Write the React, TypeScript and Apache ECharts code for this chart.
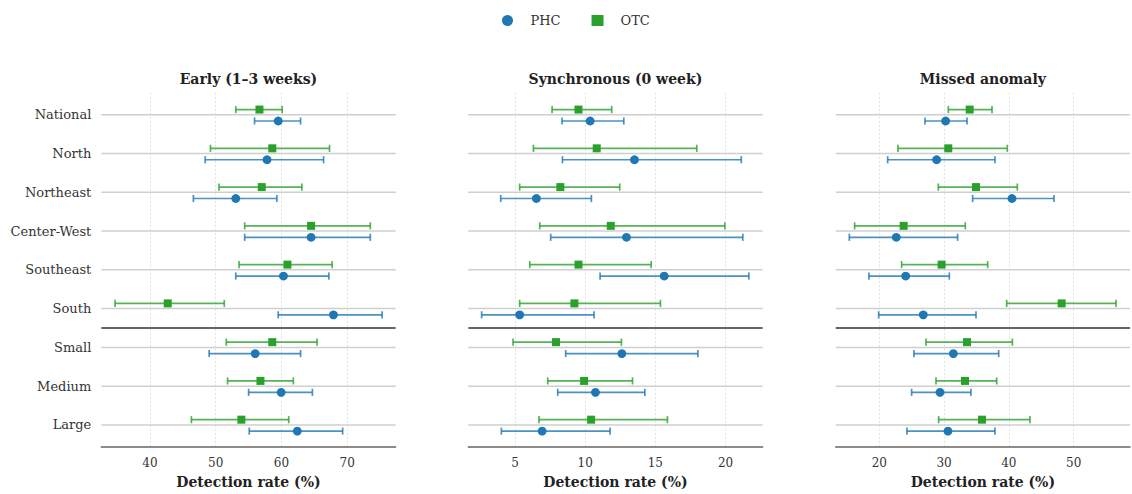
import React, { useEffect, useRef } from "react";
import * as echarts from "echarts";

const categories = ["National", "North", "Northeast", "Center-West", "Southeast", "South", "Small", "Medium", "Large"];
const panelTitles = ["Early (1–3 weeks)", "Synchronous (0 week)", "Missed anomaly"];

// [estimate, lower, upper]
const earlyPHC = [[59.5, 55.9, 62.9], [57.8, 48.4, 66.4], [53.05, 46.6, 59.3], [64.5, 54.4, 73.5], [60.3, 53.05, 67.2], [67.9, 59.5, 75.3], [56.0, 49.0, 62.9], [59.95, 55.0, 64.7], [62.4, 55.1, 69.3]];
const earlyOTC = [[56.65, 53.05, 60.1], [58.6, 49.2, 67.3], [57.0, 50.5, 63.1], [64.5, 54.4, 73.5], [60.9, 53.55, 67.7], [42.7, 34.7, 51.3], [58.6, 51.6, 65.4], [56.8, 51.8, 61.8], [53.9, 46.3, 61.1]];
const syncPHC = [[10.35, 8.35, 12.75], [13.51, 8.38, 21.12], [6.52, 3.98, 10.44], [12.94, 7.54, 21.23], [15.63, 11.06, 21.66], [5.33, 2.62, 10.63], [12.61, 8.61, 18.03], [10.73, 8.04, 14.25], [6.93, 4.03, 11.77]];
const syncOTC = [[9.52, 7.64, 11.89], [10.82, 6.31, 17.95], [8.23, 5.33, 12.46], [11.82, 6.76, 19.95], [9.52, 6.05, 14.7], [9.23, 5.33, 15.36], [7.92, 4.86, 12.58], [9.92, 7.33, 13.37], [10.42, 6.71, 15.86]];
const missPHC = [[30.24, 27.05, 33.54], [28.85, 21.29, 37.86], [40.48, 34.41, 46.97], [22.62, 15.37, 32.09], [24.07, 18.4, 30.81], [26.79, 19.9, 34.93], [31.43, 25.35, 38.43], [29.37, 24.99, 34.15], [30.6, 24.27, 37.86]];
const missOTC = [[33.95, 30.65, 37.4], [30.65, 22.88, 39.76], [34.93, 29.11, 41.31], [23.76, 16.19, 33.28], [29.62, 23.45, 36.73], [48.15, 39.66, 56.54], [33.54, 27.2, 40.54], [33.23, 28.75, 38.12], [35.85, 29.16, 43.26]];

const earlyTicks = [40, 50, 60, 70];
const syncTicks = [5, 10, 15, 20];
const missTicks = [20, 30, 40, 50];

const xRanges = [[32.6, 77.35], [1.67, 22.64], [13.27, 58.7]];
const separatorAfter = 5.5;

const PHC_COLOR = "#1f77b4";
const OTC_COLOR = "#2ca02c";
const FONT = "'DejaVu Serif', serif";

export default function App() {
  const ref = useRef<HTMLDivElement>(null);

  useEffect(() => {
    if (!ref.current) return;
    const chart = echarts.init(ref.current, null, { renderer: "svg" });

    const panels = [
      { phc: earlyPHC, otc: earlyOTC, ticks: earlyTicks },
      { phc: syncPHC, otc: syncOTC, ticks: syncTicks },
      { phc: missPHC, otc: missOTC, ticks: missTicks },
    ];
    const gridLefts = [101.3, 468.3, 835.7];
    const gridWidth = 294.3;

    const grids: any[] = [];
    const xAxes: any[] = [];
    const yAxes: any[] = [];
    const series: any[] = [];
    const graphics: any[] = [];

    const errRender = (color: string, offset: number, shape: string) => (params: any, api: any) => {
      const est = api.value(0);
      const lo = api.value(1);
      const hi = api.value(2);
      const y = api.value(3) + offset;
      const p = api.coord([est, y]);
      const pl = api.coord([lo, y]);
      const ph = api.coord([hi, y]);
      const cap = 3.6;
      const ls = { stroke: color, lineWidth: 1.7, opacity: 0.8 };
      const marker =
        shape === "circle"
          ? { type: "circle", shape: { cx: p[0], cy: p[1], r: 4.4 }, style: { fill: color } }
          : { type: "rect", shape: { x: p[0] - 4, y: p[1] - 4, width: 8, height: 8 }, style: { fill: color } };
      return {
        type: "group",
        children: [
          { type: "line", shape: { x1: pl[0], y1: pl[1], x2: ph[0], y2: ph[1] }, style: ls },
          { type: "line", shape: { x1: pl[0], y1: pl[1] - cap, x2: pl[0], y2: pl[1] + cap }, style: ls },
          { type: "line", shape: { x1: ph[0], y1: ph[1] - cap, x2: ph[0], y2: ph[1] + cap }, style: ls },
          marker,
        ],
      };
    };

    panels.forEach((pn, k) => {
      grids.push({ left: gridLefts[k], width: gridWidth, top: 92.7, height: 360.6, containLabel: false });
      xAxes.push({
        type: "value",
        gridIndex: k,
        min: xRanges[k][0],
        max: xRanges[k][1],
        position: "bottom",
        name: "Detection rate (%)",
        nameLocation: "middle",
        nameGap: 28,
        nameTextStyle: { fontFamily: FONT, fontSize: 14, fontWeight: "bold", color: "#222" },
        axisLine: { show: true, onZero: false, lineStyle: { color: "#666", width: 1.5 } },
        axisTick: { show: false },
        axisLabel: {
          customValues: pn.ticks,
          fontFamily: FONT,
          fontSize: 12,
          color: "#333",
          margin: 10,
        },
        splitLine: {
          show: true,
          showMinLine: false,
          showMaxLine: false,
          lineStyle: { color: "#e2e2e2", type: [2, 2], width: 1 },
        },
      });
      yAxes.push({
        type: "value",
        gridIndex: k,
        inverse: true,
        min: -0.57,
        max: 8.57,
        axisLine: { show: false, onZero: false },
        axisTick: { show: false },
        splitLine: { show: false },
        axisLabel: {
          show: k === 0,
          customValues: categories.map((_, i) => i),
          formatter: (v: number) => categories[Math.round(v)] ?? "",
          fontFamily: FONT,
          fontSize: 13,
          color: "#333",
          margin: 10,
        },
      });

      // horizontal reference lines (one per category) and the group separator
      const xMin = xRanges[k][0];
      const xMax = xRanges[k][1];
      const lineData = categories.map((_, i) => [xMin, i, 0]).concat([[xMin, separatorAfter, 1]]);
      series.push({
        type: "custom",
        name: "grid" + k,
        xAxisIndex: k,
        yAxisIndex: k,
        silent: true,
        z: 1,
        data: lineData,
        encode: { x: 0, y: 1 },
        renderItem: (params: any, api: any) => {
          const y = api.value(1);
          const sep = api.value(2) === 1;
          const a = api.coord([xMin, y]);
          const b = api.coord([xMax, y]);
          return {
            type: "line",
            shape: { x1: a[0], y1: a[1], x2: b[0], y2: b[1] },
            style: { stroke: sep ? "#666" : "#cfcfcf", lineWidth: sep ? 2 : 1.5 },
          };
        },
      });

      series.push({
        type: "custom",
        name: "OTC",
        xAxisIndex: k,
        yAxisIndex: k,
        z: 3,
        itemStyle: { color: OTC_COLOR },
        data: pn.otc.map((d, i) => [d[0], d[1], d[2], i]),
        encode: { x: [0, 1, 2], y: 3 },
        renderItem: errRender(OTC_COLOR, -0.135, "rect"),
      });
      series.push({
        type: "custom",
        name: "PHC",
        xAxisIndex: k,
        yAxisIndex: k,
        z: 4,
        itemStyle: { color: PHC_COLOR },
        data: pn.phc.map((d, i) => [d[0], d[1], d[2], i]),
        encode: { x: [0, 1, 2], y: 3 },
        renderItem: errRender(PHC_COLOR, 0.16, "circle"),
      });

      graphics.push({
        type: "text",
        x: gridLefts[k] + gridWidth / 2,
        y: 79,
        style: {
          text: panelTitles[k],
          textAlign: "center",
          textVerticalAlign: "middle",
          font: "bold 14px 'DejaVu Serif', serif",
          fill: "#222",
        },
      });
    });

    chart.setOption({
      animation: false,
      backgroundColor: "#ffffff",
      legend: {
        data: [
          { name: "PHC", icon: "circle" },
          { name: "OTC", icon: "rect" },
        ],
        left: 497,
        top: 9,
        itemWidth: 12,
        itemHeight: 11,
        itemGap: 31,
        textStyle: { fontFamily: FONT, fontSize: 13, color: "#333", padding: [0, 0, 0, 12] },
      },
      grid: grids,
      xAxis: xAxes,
      yAxis: yAxes,
      series,
      graphic: graphics,
    });

    return () => chart.dispose();
  }, []);

  return <div ref={ref} style={{ position: "fixed", left: 0, top: 0, width: 1132, height: 494 }} />;
}
